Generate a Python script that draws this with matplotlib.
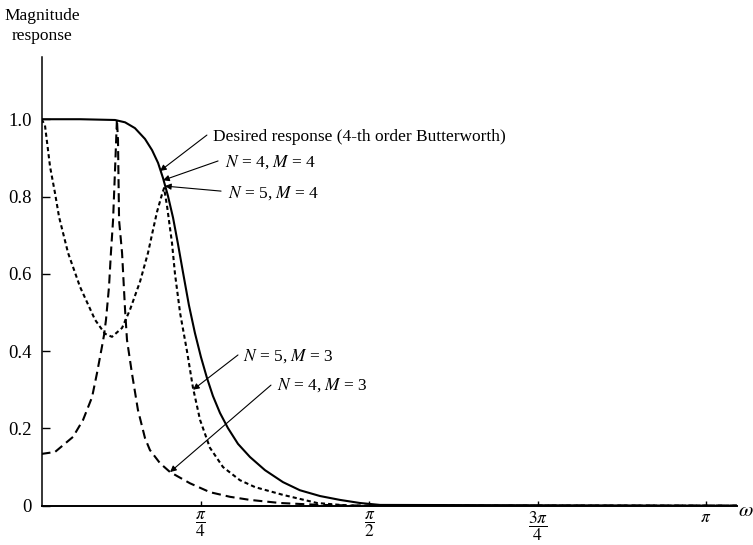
import matplotlib
matplotlib.use("Agg")
import matplotlib.pyplot as plt
import numpy as np

plt.rcParams['font.family'] = ['Liberation Serif', 'DejaVu Serif']
plt.rcParams['mathtext.fontset'] = 'stix'
plt.rcParams['lines.scale_dashes'] = False

# ---- data (omega in rad, magnitude) ----
w_desired = [0.041, 0.221, 0.384, 0.431, 0.477, 0.524, 0.557, 0.585, 0.608, 0.631,
             0.655, 0.678, 0.701, 0.729, 0.757, 0.785, 0.813, 0.841, 0.874, 0.911,
             0.958, 1.014, 1.084, 1.168, 1.247, 1.341, 1.434, 1.527, 1.621, 3.287]
m_desired = [1.000, 1.000, 0.998, 0.992, 0.977, 0.949, 0.920, 0.887, 0.848, 0.802,
             0.745, 0.677, 0.605, 0.519, 0.447, 0.385, 0.331, 0.284, 0.240, 0.201,
             0.160, 0.126, 0.092, 0.061, 0.040, 0.025, 0.015, 0.007, 0.002, 0.000]

w_n5m3 = [0.041, 0.057, 0.081, 0.104, 0.123, 0.165, 0.221, 0.291, 0.337, 0.370,
          0.417, 0.454, 0.501, 0.538, 0.558, 0.580, 0.603, 0.613, 0.627, 0.650,
          0.664, 0.688, 0.720, 0.748, 0.781, 0.827, 0.888, 0.967, 1.038, 1.168,
          1.327, 1.481, 3.287]
m_n5m3 = [1.000, 0.985, 0.877, 0.809, 0.747, 0.654, 0.566, 0.481, 0.445, 0.437,
          0.460, 0.507, 0.580, 0.654, 0.705, 0.760, 0.805, 0.822, 0.775, 0.680,
          0.600, 0.498, 0.400, 0.305, 0.222, 0.150, 0.100, 0.066, 0.048, 0.028,
          0.007, 0.000, 0.000]

w_n4m3 = [0.041, 0.104, 0.188, 0.235, 0.277, 0.300, 0.323, 0.333, 0.342, 0.356,
          0.365, 0.375, 0.386, 0.393, 0.398, 0.403, 0.417, 0.431, 0.440, 0.463,
          0.491, 0.524, 0.547, 0.594, 0.641, 0.734, 0.827, 0.921, 1.014, 1.154,
          1.341, 1.574, 3.287]
m_n4m3 = [0.134, 0.139, 0.178, 0.222, 0.281, 0.343, 0.411, 0.442, 0.481, 0.566,
          0.654, 0.739, 0.895, 1.000, 0.946, 0.739, 0.654, 0.507, 0.429, 0.343,
          0.248, 0.175, 0.144, 0.110, 0.087, 0.058, 0.035, 0.023, 0.015, 0.007,
          0.002, 0.000, 0.000]

y_ticks = [0.0, 0.2, 0.4, 0.6, 0.8, 1.0]
y_ticklabels = ["0", "0.2", "0.4", "0.6", "0.8", "1.0"]
x_ticks = [np.pi / 4, np.pi / 2, 3 * np.pi / 4, np.pi]
x_ticklabels = [r"$\dfrac{\pi}{4}$", r"$\dfrac{\pi}{2}$", r"$\dfrac{3\pi}{4}$", r"$\pi$"]

# annotations: (text, text_xy, arrow_tail, arrow_tip)
annotations = [
    ("Desired response (4-th order Butterworth)", (0.841, 0.954), (0.813, 0.959), (0.594, 0.866)),
    (r"$N$ = 4, $M$ = 4", (0.898, 0.888), (0.865, 0.892), (0.608, 0.842)),
    (r"$N$ = 5, $M$ = 4", (0.912, 0.810), (0.879, 0.814), (0.617, 0.827)),
    (r"$N$ = 5, $M$ = 3", (0.981, 0.387), (0.958, 0.390), (0.748, 0.300)),
    (r"$N$ = 4, $M$ = 3", (1.140, 0.312), (1.112, 0.312), (0.641, 0.087)),
]

W, H = 753, 545
fig = plt.figure(figsize=(W / 100, H / 100), dpi=100)
left_px, right_px, bottom_px, top_px = 41.5, 737, 505.7, 57
ax = fig.add_axes([left_px / W, 1 - bottom_px / H,
                   (right_px - left_px) / W, (bottom_px - top_px) / H])

ax.plot(w_desired, m_desired, color='black', lw=1.5, solid_capstyle='butt',
        solid_joinstyle='round')
ax.plot(w_n5m3, m_n5m3, color='black', lw=1.5, dashes=(3.0, 2.2))
ax.plot(w_n4m3, m_n4m3, color='black', lw=1.5, dashes=(6.5, 3.6))

ax.set_xlim(0.041, 3.287)
ax.set_ylim(0, 1.161)

for s in ['top', 'right']:
    ax.spines[s].set_visible(False)
ax.spines['left'].set_linewidth(1.1)
ax.spines['bottom'].set_linewidth(1.4)

ax.set_yticks(y_ticks)
ax.set_yticklabels(y_ticklabels, fontsize=13.5)
ax.set_xticks(x_ticks)
ax.set_xticklabels(x_ticklabels, fontsize=12.5)
ax.tick_params(axis='y', direction='in', length=6, width=1.0, pad=7)
ax.tick_params(axis='x', direction='in', length=3.5, width=1.0, pad=3)

for txt, txy, tail, tip in annotations:
    ax.text(txy[0], txy[1], txt, fontsize=12.5, ha='left', va='center')
    ax.annotate("", xy=tip, xytext=tail,
                arrowprops=dict(arrowstyle='-|>', lw=0.8, color='black',
                                mutation_scale=9, shrinkA=0, shrinkB=0))

fig.text(42 / W, 1 - 26 / H, "Magnitude\nresponse", fontsize=12.5,
         ha='center', va='center', multialignment='center', linespacing=1.3)
fig.text(746 / W, 1 - 512 / H, r"$\omega$", fontsize=15, ha='center', va='center')

fig.savefig("out.png", dpi=100)
